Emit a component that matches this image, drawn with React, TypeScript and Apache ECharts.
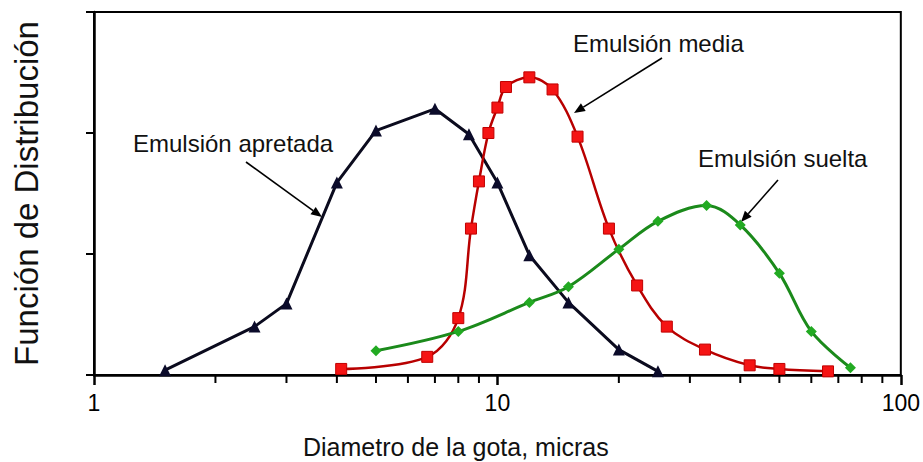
import React, { useEffect, useRef } from "react";
import * as echarts from "echarts";

const apretadaX = [1.5, 2.5, 3, 4, 5, 7, 8.5, 10, 12, 15, 20, 25];
const apretadaY = [0.04, 0.4, 0.59, 1.59, 2.02, 2.2, 1.99, 1.59, 0.99, 0.6, 0.21, 0.03];

const mediaX = [4.1, 6.7, 8.0, 8.6, 9.0, 9.5, 10, 10.5, 12, 13.7, 15.8, 18.9, 22.2, 26.3, 32.7, 42.2, 50, 66];
const mediaY = [0.05, 0.15, 0.47, 1.21, 1.6, 2.0, 2.21, 2.38, 2.46, 2.36, 1.97, 1.21, 0.74, 0.4, 0.21, 0.08, 0.05, 0.03];

const sueltaX = [5, 8, 12, 15, 20, 25, 33, 40, 50, 60, 75];
const sueltaY = [0.2, 0.36, 0.6, 0.73, 1.04, 1.27, 1.4, 1.24, 0.84, 0.36, 0.06];

const minorTicks = [2, 3, 4, 5, 6, 7, 8, 9, 20, 30, 40, 50, 60, 70, 80, 90];

const labels = ["Emulsión apretada", "Emulsión media", "Emulsión suelta"];
const xTitle = "Diametro de la gota, micras";
const yTitle = "Función de Distribución";

const FONT = "'Liberation Sans', Arial, sans-serif";

function zip(xs: number[], ys: number[]) {
  return xs.map((x, i) => [x, ys[i]]);
}

function arrow(x1: number, y1: number, x2: number, y2: number) {
  const ang = Math.atan2(y2 - y1, x2 - x1);
  const len = 11;
  const w = 4.5;
  const bx = x2 - len * Math.cos(ang);
  const by = y2 - len * Math.sin(ang);
  const px = -Math.sin(ang) * w;
  const py = Math.cos(ang) * w;
  return [
    {
      type: "line",
      shape: { x1, y1, x2: bx, y2: by },
      style: { stroke: "#000", lineWidth: 1.6 },
      silent: true,
    },
    {
      type: "polygon",
      shape: {
        points: [
          [x2, y2],
          [bx + px, by + py],
          [bx - px, by - py],
        ],
      },
      style: { fill: "#000" },
      silent: true,
    },
  ];
}

export default function App() {
  const ref = useRef<HTMLDivElement>(null);
  useEffect(() => {
    if (!ref.current) return;
    const chart = echarts.init(ref.current, undefined, { renderer: "svg" });
    const annText = (text: string, x: number, y: number, size = 24) => ({
      type: "text",
      x,
      y,
      silent: true,
      style: {
        text,
        font: `${size}px ${FONT}`,
        fill: "#111",
        verticalAlign: "middle",
        align: "left",
      },
    });
    chart.setOption({
      animation: false,
      backgroundColor: "#fff",
      grid: {
        left: 94,
        right: 20,
        top: 12,
        bottom: 87,
        show: true,
        borderColor: "#000",
        borderWidth: 2,
        backgroundColor: "transparent",
      },
      xAxis: {
        type: "log",
        logBase: 10,
        min: 1,
        max: 100,
        axisLine: { show: true, lineStyle: { color: "#000", width: 2.5 } },
        axisTick: { show: true, inside: false, length: 10, lineStyle: { color: "#000", width: 2.5 } },
        axisLabel: { color: "#000", fontSize: 23, fontFamily: FONT, margin: 16 },
        splitLine: { show: false },
        minorTick: { show: false },
      },
      yAxis: {
        type: "value",
        min: 0,
        max: 3,
        interval: 1,
        name: yTitle,
        nameLocation: "middle",
        nameGap: 51,
        nameTextStyle: { fontSize: 33, fontFamily: FONT, color: "#111" },
        axisLine: { show: true, lineStyle: { color: "#000", width: 2.5 } },
        axisTick: { show: true, length: 8, lineStyle: { color: "#000", width: 2 } },
        axisLabel: { show: false },
        splitLine: { show: false },
      },
      graphic: [
        annText(labels[0], 133, 143),
        annText(labels[1], 573, 43),
        annText(labels[2], 698, 158),
        ...arrow(246, 162, 322, 217),
        ...arrow(662, 58, 574, 113),
        ...arrow(778, 180, 741, 222),
        annText(xTitle, 303, 447, 25),
      ],
      series: [
        {
          name: labels[0],
          type: "line",
          data: zip(apretadaX, apretadaY),
          symbol: "triangle",
          symbolSize: 12,
          lineStyle: { color: "#0b0b1e", width: 3 },
          itemStyle: { color: "#0b0b2a" },
          smooth: false,
          z: 3,
        },
        {
          name: labels[1],
          type: "line",
          data: zip(mediaX, mediaY),
          symbol: "rect",
          symbolSize: 11,
          smooth: 0.35,
          lineStyle: { color: "#b80000", width: 2.5 },
          itemStyle: { color: "#f51414", borderColor: "#c00000", borderWidth: 1 },
          z: 4,
        },
        {
          name: labels[2],
          type: "line",
          data: zip(sueltaX, sueltaY),
          symbol: "diamond",
          symbolSize: 11,
          smooth: 0.35,
          lineStyle: { color: "#1b8a1b", width: 3 },
          itemStyle: { color: "#22aa22" },
          z: 5,
        },
        {
          type: "scatter",
          name: "minor ticks",
          silent: true,
          clip: false,
          data: minorTicks.map((v) => [v, 0]),
          symbol: "rect",
          symbolSize: [2, 8],
          symbolOffset: [0, 4],
          itemStyle: { color: "#000", opacity: 1 },
          z: 10,
        },
      ],
    });
    return () => chart.dispose();
  }, []);
  return (
    <div
      ref={ref}
      style={{ position: "fixed", left: 0, top: 0, width: 923, height: 462, background: "#fff" }}
    />
  );
}
